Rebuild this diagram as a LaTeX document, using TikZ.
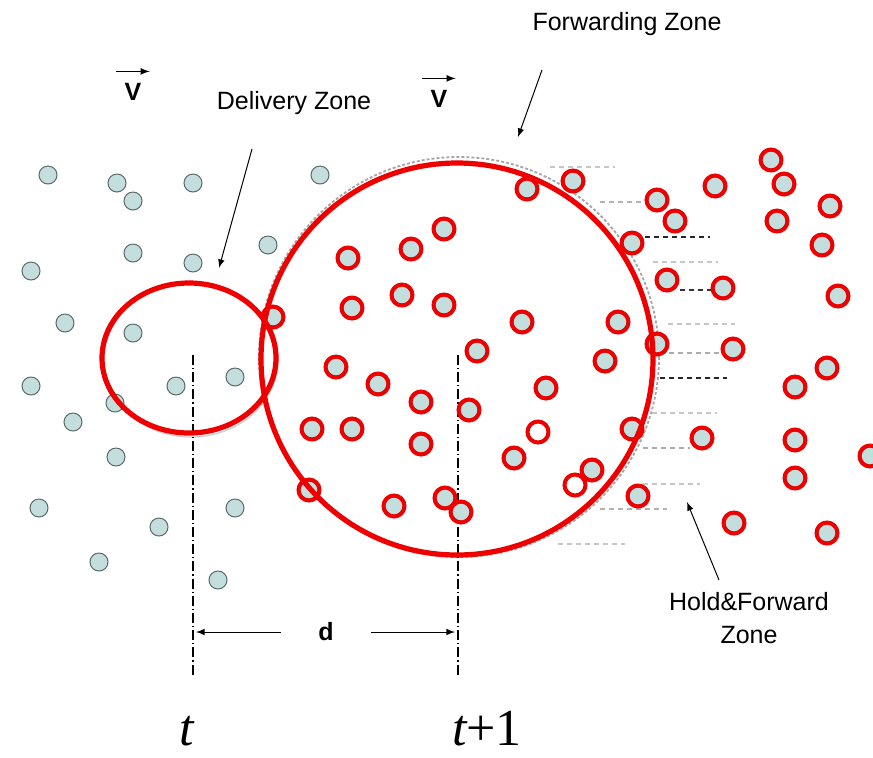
\documentclass[tikz,border=0pt]{standalone}
\usepackage{fontspec}
\setmainfont{Liberation Serif}
\newfontfamily\zonefont{Liberation Sans}
\usetikzlibrary{arrows,positioning}
\definecolor{dotfill}{RGB}{196,222,222}
\definecolor{dotedge}{RGB}{90,105,105}
\definecolor{ringred}{RGB}{238,0,0}

\begin{document}
\begin{tikzpicture}[x=0.5pt,y=-0.5pt,
  dot/.style={fill=dotfill,draw=dotedge,line width=0.5pt},
  ring/.style={draw=ringred,line width=2pt},
  zone/.style={draw=ringred,line width=2.6pt},
  lbl/.style={font=\zonefont\fontsize{12.5}{15}\selectfont},
  hfline/.style={dash pattern=on 2.5pt off 2pt,line width=0.7pt},
  timeline/.style={dash pattern=on 5pt off 1.5pt on 0.6pt off 1.5pt,line width=0.6pt}]
\useasboundingbox (0,0) rectangle (873,757);
% velocity labels
\node[lbl,font=\zonefont\bfseries\fontsize{12.5}{15}\selectfont,inner xsep=4pt,inner ysep=5.5pt,anchor=base] (vleft) at (133,100) {V};
\node[lbl,font=\zonefont\bfseries\fontsize{12.5}{15}\selectfont,inner xsep=4pt,inner ysep=5.5pt,anchor=base] (vright) at (439,107) {V};
\draw[arrows=-latex,line width=0.6pt] (vleft.north west) -- (vleft.north east);
\draw[arrows=-latex,line width=0.6pt] (vright.north west) -- (vright.north east);
% zone labels
\node[lbl,anchor=base] (delivery) at (294,109) {Delivery Zone};
\node[lbl,anchor=base] (forwarding) at (627,30) {Forwarding Zone};
\node[lbl,anchor=base] (hold) at (749,610) {Hold\&Forward};
\node[lbl,anchor=base] (holdzone) at (749,643) {Zone};
\coordinate (delivtail) at (252,149);
\coordinate (delivhead) at (219,268);
\coordinate (fwdtail) at (542,70);
\coordinate (fwdhead) at (518,137);
\coordinate (holdtail) at (719,580);
\coordinate (holdhead) at (687,502);
\draw[arrows=-latex,line width=0.5pt] (delivtail) -- (delivhead);
\draw[arrows=-latex,line width=0.5pt] (fwdtail) -- (fwdhead);
\draw[arrows=-latex,line width=0.5pt] (holdtail) -- (holdhead);
% hold & forward strips
\foreach \xa/\xb/\y/\c in {550/615/167/gray!45,600/650/202/gray!60,645/710/237/black!85,
    653/718/262/gray!45,680/715/290/black!80,668/735/324/gray!45,660/722/353/gray!65,
    660/727/378/black!85,652/717/413/gray!45,643/690/448/gray!65,643/700/484/gray!45,
    600/667/509/gray!60,558/625/544/gray!45}
  \draw[hfline,\c] (\xa,\y) -- (\xb,\y);
% original zones
\draw[gray!40,line width=0.6pt] (191,360) ellipse (87 and 77);
\draw[gray!70,line width=0.9pt,dash pattern=on 1.5pt off 1pt] (459,357) circle (200);
% time lines
\coordinate (ttop) at (193,355);
\coordinate (tbot) at (193,675);
\coordinate (nexttop) at (458,355);
\coordinate (nextbot) at (458,675);
\draw[timeline] (ttop) -- (tbot);
\draw[timeline] (nexttop) -- (nextbot);
% vehicles
\foreach \x/\y in {48/175,117/183,133/201,193/183,320/175,31/271,133/253,193/263,268/245,
    65/323,133/333,235/377,31/386,176/386,115/403,73/422,116/457,39/508,235/508,
    159/527,99/562,218/580}
  \draw[dot] (\x,\y) circle (9);
\foreach \x/\y in {273/317,348/258,411/249,352/308,402/295,336/367,527/189,573/181,444/229,
    657/200,675/221,632/243,715/186,771/160,784/184,830/206,777/221,822/245,667/280,
    723/288,838/296,444/305,522/322,618/322,477/351,605/361,657/344,733/349,827/368,
    378/384,421/402,312/429,352/429,421/444,309/490,394/506,546/388,469/410,632/429,
    702/438,795/387,795/440,870/456,795/478,514/458,592/470,445/498,461/512,638/496,
    734/523,827/533}
  \draw[dot] (\x,\y) circle (9);
% zones
\draw[zone] (189,358) ellipse (87 and 75);
\draw[zone] (457,359) circle (196);
\foreach \x/\y in {273/317,348/258,411/249,352/308,402/295,336/367,527/189,573/181,444/229,
    657/200,675/221,632/243,715/186,771/160,784/184,830/206,777/221,822/245,667/280,
    723/288,838/296,444/305,522/322,618/322,477/351,605/361,657/344,733/349,827/368,
    378/384,421/402,312/429,352/429,421/444,309/490,394/506,546/388,469/410,632/429,
    702/438,795/387,795/440,870/456,795/478,514/458,592/470,445/498,461/512,638/496,
    734/523,827/533,538/432,575/485}
  \draw[ring] (\x,\y) circle (10.5);
% distance
\node[font=\zonefont\bfseries\fontsize{12.5}{15}\selectfont,inner xsep=18.5pt] (dist) at (326,632) {d};
\coordinate (dleft) at (196,632);
\coordinate (dright) at (455,632);
\draw[arrows=-latex,line width=0.5pt] (dist) -- (dleft);
\draw[arrows=-latex,line width=0.5pt] (dist) -- (dright);
% time stamps
\node[anchor=base,inner sep=0pt,font=\fontsize{26}{30}\selectfont] (tnow) at (187,745) {\itshape t};
\node[anchor=base,inner sep=0pt,font=\fontsize{26}{30}\selectfont] (tnext) at (487,745) {{\itshape t}+1};
\end{tikzpicture}
\end{document}
